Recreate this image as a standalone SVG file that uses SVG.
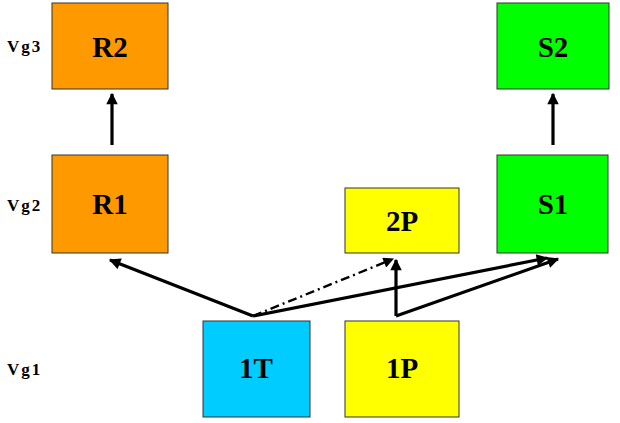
<svg xmlns="http://www.w3.org/2000/svg" width="620" height="423" viewBox="0 0 620 423">
<style>
.box{stroke:#333;stroke-width:1}
.lbl{font-family:"Liberation Serif",serif;font-weight:bold;font-size:29px;text-anchor:middle;fill:#000}
.vg{font-family:"Liberation Serif",serif;font-weight:bold;font-size:17px;letter-spacing:2px;fill:#000}
.c{stroke:#000;stroke-width:3.2;fill:none}
.d{stroke:#000;stroke-width:2.4;fill:none;stroke-dasharray:9 4 2 4}
</style>
<defs>
<marker id="ah" viewBox="0 0 10 10" refX="9" refY="5" markerWidth="4" markerHeight="3.6" orient="auto" markerUnits="strokeWidth">
<path d="M0,0 L10,5 L0,10 z" fill="#000"/>
</marker>
<marker id="ahs" viewBox="0 0 10 10" refX="9" refY="5" markerWidth="5" markerHeight="4.4" orient="auto" markerUnits="strokeWidth">
<path d="M0,0 L10,5 L0,10 z" fill="#000"/>
</marker>
</defs>
<text class="vg" x="7" y="52">Vg3</text>
<text class="vg" x="7" y="211">Vg2</text>
<text class="vg" x="7" y="375">Vg1</text>
<g id="R2"><rect class="box" x="52" y="3" width="116" height="86" fill="#FF9900"/><text class="lbl" x="110" y="57">R2</text></g>
<g id="S2"><rect class="box" x="497" y="3" width="112" height="86" fill="#00FF00"/><text class="lbl" x="553" y="57">S2</text></g>
<g id="R1"><rect class="box" x="52" y="155" width="116" height="98" fill="#FF9900"/><text class="lbl" x="110" y="214">R1</text></g>
<g id="S1"><rect class="box" x="497" y="155" width="111" height="98" fill="#00FF00"/><text class="lbl" x="553" y="214">S1</text></g>
<g id="2P"><rect class="box" x="345" y="188" width="114" height="65" fill="#FFFF00"/><text class="lbl" x="402" y="231">2P</text></g>
<g id="1T"><rect class="box" x="203" y="321" width="107" height="96" fill="#00CCFF"/><text class="lbl" x="256" y="378">1T</text></g>
<g id="1P"><rect class="box" x="345" y="321" width="114" height="96" fill="#FFFF00"/><text class="lbl" x="402" y="378">1P</text></g>
<g id="connectors">
<line class="c" x1="112" y1="145" x2="112" y2="94" marker-end="url(#ah)"/>
<line class="c" x1="553" y1="145" x2="553" y2="94" marker-end="url(#ah)"/>
<line class="c" x1="253" y1="316" x2="110" y2="260" marker-end="url(#ah)"/>
<line class="c" x1="253" y1="316" x2="547" y2="258" marker-end="url(#ah)"/>
<line class="d" x1="253" y1="316" x2="393" y2="259" marker-end="url(#ahs)"/>
<line class="c" x1="396" y1="316" x2="396" y2="260" marker-end="url(#ah)"/>
<line class="c" x1="396" y1="316" x2="558" y2="259" marker-end="url(#ah)"/>
</g>
</svg>
